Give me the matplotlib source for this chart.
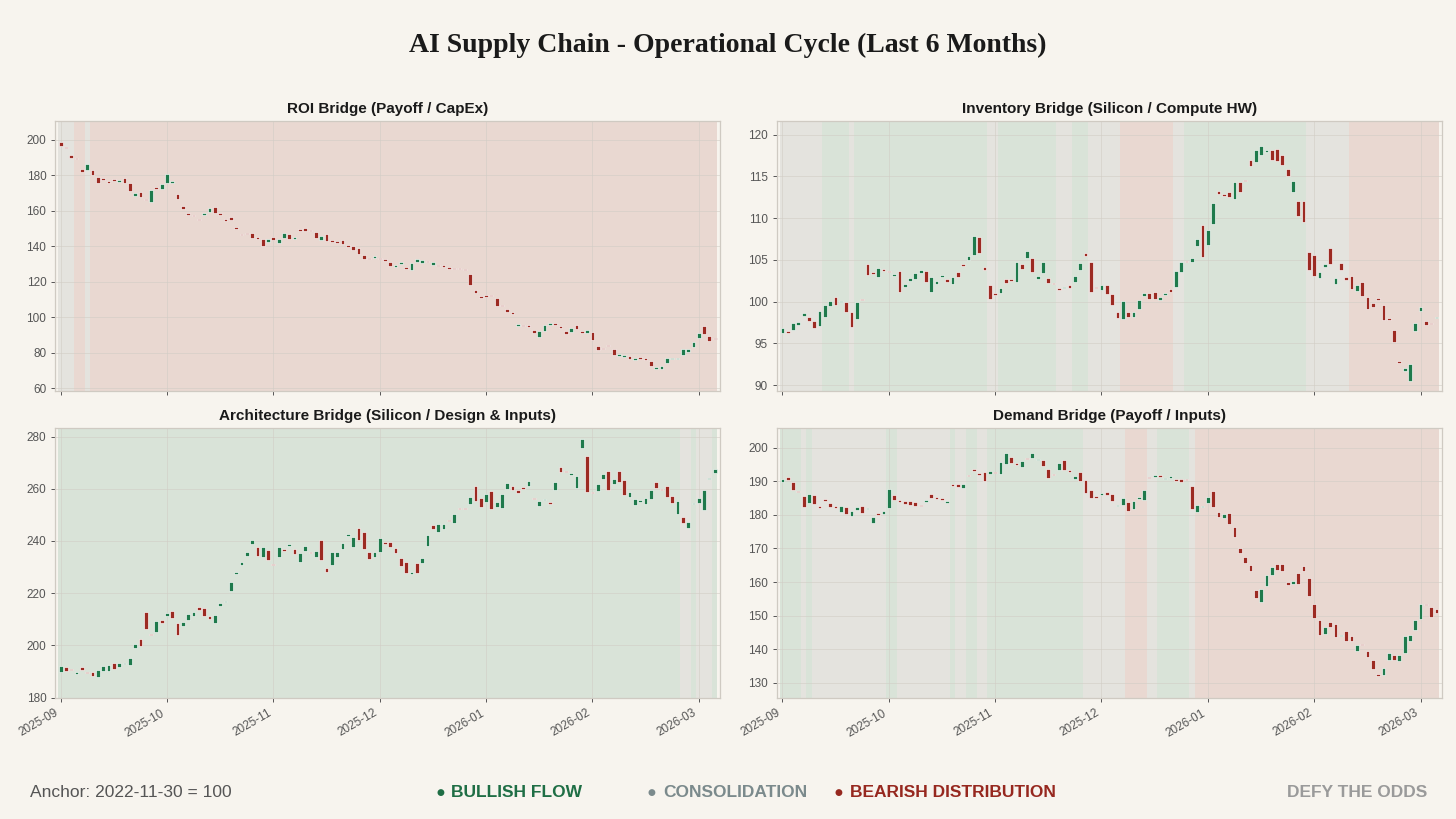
"""AI supply chain bridges - candlestick panels with regime shading."""

import matplotlib
matplotlib.use("Agg")
import matplotlib.pyplot as plt

# --- data -----------------------------------------------------------------
month_labels = ["2025-09", "2025-10", "2025-11", "2025-12",
                "2026-01", "2026-02", "2026-03"]
month_tick_pos = [0, 20, 40, 60, 80, 100, 120]

roi_open = [
    198.7, 195.6, 191.2, 189.2, 183.5, 183.1, 182.7, 178.8, 177.6, 176.9,
    177.3, 176.2, 178.1, 175.6, 168.3, 170.2, 166.8, 164.9, 173.4, 172.3,
    175.6, 175.6, 169.3, 162.5, 158.4, 157.4, 155.2, 157.3, 159.1, 162.1,
    158.2, 155.2, 156.5, 150.8, 146.7, 147.3, 147.5, 145.3, 143.9, 142.2,
    145.1, 141.9, 144.7, 146.7, 144.3, 149.3, 150.3, 149.0, 147.9, 143.6,
    146.9, 143.6, 142.2, 143.4, 140.4, 140.2, 138.9, 134.9, 133.4, 133.4,
    133.2, 132.7, 131.0, 128.4, 129.7, 128.4, 126.5, 130.8, 130.6, 131.6,
    129.3, 129.1, 128.9, 127.8, 127.3, 127.2, 126.9, 124.4, 115.2, 111.5,
    112.6, 112.4, 110.6, 106.8, 104.9, 102.7, 95.2, 95.6, 95.4, 92.8,
    88.6, 92.4, 95.8, 96.5, 94.8, 92.4, 91.8, 95.9, 92.0, 90.9,
    91.8, 83.8, 82.4, 84.5, 82.4, 78.3, 77.8, 78.3, 76.2, 77.8,
    77.2, 75.1, 71.0, 71.0, 74.0, 76.5, 76.3, 78.7, 80.6, 83.4,
    88.1, 95.0, 89.4, 88.4,
]
roi_close = [
    196.3, 195.3, 189.7, 188.8, 182.0, 186.1, 180.0, 175.8, 177.4, 175.4,
    176.8, 177.1, 175.4, 171.3, 169.8, 167.7, 165.9, 171.5, 172.3, 174.7,
    180.5, 176.4, 166.8, 161.0, 157.4, 156.9, 154.6, 158.4, 161.7, 158.4,
    157.8, 154.3, 154.6, 149.9, 146.2, 146.9, 144.5, 143.8, 140.0, 143.8,
    143.4, 144.1, 147.5, 143.8, 145.3, 148.8, 148.6, 148.4, 144.7, 145.8,
    143.0, 142.3, 142.0, 141.1, 139.6, 138.1, 135.5, 133.0, 132.7, 134.6,
    132.5, 131.8, 128.9, 128.9, 130.8, 127.1, 130.3, 132.7, 132.1, 131.0,
    131.2, 128.8, 128.4, 127.4, 127.0, 127.0, 126.5, 118.4, 113.4, 111.0,
    111.6, 111.7, 106.4, 106.1, 103.0, 101.6, 96.1, 94.8, 94.5, 91.4,
    92.4, 95.8, 96.3, 95.8, 94.2, 90.5, 93.7, 93.1, 91.3, 92.8,
    87.1, 81.7, 81.9, 83.9, 78.7, 79.4, 78.7, 76.6, 77.0, 76.6,
    76.2, 72.5, 72.1, 72.5, 77.0, 76.8, 76.9, 81.9, 82.2, 86.2,
    91.4, 90.5, 86.8, 87.5,
]
roi_regimes = [("N", 3), ("R", 2), ("N", 1), ("R", 118)]

inv_open = [
    96.3, 96.5, 96.6, 97.2, 98.3, 98.1, 97.7, 97.1, 98.2, 99.5,
    100.6, 99.9, 100.0, 98.8, 97.9, 100.3, 104.5, 103.6, 102.9, 103.9,
    103.7, 103.1, 103.7, 101.8, 102.5, 102.7, 103.4, 103.7, 101.2, 102.1,
    103.0, 102.7, 102.1, 103.6, 104.5, 105.0, 105.6, 107.7, 104.2, 102.0,
    101.0, 101.0, 102.7, 102.7, 102.3, 104.5, 105.2, 105.2, 102.7, 103.4,
    102.8, 102.2, 101.6, 101.6, 102.0, 102.4, 103.8, 105.8, 104.8, 101.8,
    101.4, 102.0, 100.9, 98.8, 97.9, 98.7, 98.2, 99.1, 100.7, 101.0,
    101.1, 100.2, 100.8, 101.5, 101.7, 103.6, 104.9, 104.8, 106.6, 109.2,
    106.8, 109.3, 113.3, 112.9, 113.1, 112.3, 114.3, 114.6, 117.0, 116.7,
    117.5, 117.9, 118.2, 118.3, 117.6, 115.9, 113.1, 112.0, 112.0, 106.0,
    105.6, 102.8, 104.2, 106.4, 102.1, 104.6, 103.0, 103.1, 101.3, 102.4,
    100.5, 99.8, 100.4, 99.6, 98.0, 96.6, 92.8, 91.7, 90.5, 96.5,
    98.9, 97.7, 97.4, 98.0,
]
inv_close = [
    96.8, 96.3, 97.4, 97.6, 98.6, 97.7, 96.9, 98.9, 99.6, 100.1,
    99.6, 100.1, 98.7, 97.0, 99.9, 100.2, 103.2, 103.3, 104.0, 103.7,
    103.5, 103.3, 101.1, 102.1, 102.8, 103.4, 103.8, 102.4, 103.0, 102.5,
    103.2, 102.4, 102.9, 102.9, 104.3, 105.5, 107.8, 105.8, 103.8, 100.3,
    100.8, 101.6, 102.2, 102.5, 104.7, 103.9, 106.1, 103.6, 103.1, 104.7,
    102.2, 102.1, 101.4, 101.8, 101.6, 103.1, 104.6, 105.5, 101.2, 101.6,
    102.0, 100.9, 99.6, 98.0, 100.1, 98.1, 98.8, 100.2, 101.0, 100.3,
    100.3, 100.5, 101.0, 101.1, 103.7, 104.7, 104.7, 105.2, 107.5, 105.4,
    108.6, 111.8, 112.9, 112.7, 112.5, 114.3, 113.1, 114.4, 116.2, 118.2,
    118.6, 118.1, 117.0, 116.8, 116.4, 115.0, 114.4, 110.3, 109.5, 103.8,
    103.1, 103.6, 104.5, 104.5, 102.8, 103.8, 102.6, 101.5, 102.0, 100.7,
    99.1, 99.3, 100.2, 97.8, 97.8, 95.2, 92.7, 92.1, 92.5, 97.4,
    99.3, 97.2, 97.3, 98.2,
]
inv_regimes = [("N", 8), ("G", 5), ("N", 1), ("G", 25), ("N", 2), ("G", 11),
               ("N", 3), ("G", 3), ("N", 6), ("R", 10), ("N", 2), ("G", 23),
               ("N", 8), ("R", 17)]

arch_open = [
    189.6, 191.6, 190.8, 188.9, 191.6, 189.5, 189.6, 187.9, 190.2, 190.0,
    193.1, 191.6, 192.9, 192.4, 199.1, 202.3, 212.9, 204.3, 205.1, 209.9,
    211.2, 213.2, 208.6, 207.6, 209.9, 211.4, 214.7, 214.2, 211.4, 208.6,
    215.2, 216.5, 220.7, 227.5, 230.8, 234.4, 238.9, 237.5, 234.0, 236.6,
    231.1, 233.8, 236.7, 238.1, 236.9, 231.9, 236.3, 235.9, 234.0, 240.2,
    229.5, 230.8, 234.0, 237.1, 242.0, 237.8, 245.0, 243.3, 235.9, 234.0,
    235.9, 239.7, 239.7, 237.3, 233.6, 231.9, 227.2, 231.4, 231.5, 238.2,
    246.1, 243.5, 244.4, 248.0, 247.0, 252.4, 252.7, 254.3, 260.9, 256.3,
    255.0, 259.2, 253.1, 252.8, 260.1, 261.0, 259.7, 260.7, 261.2, 256.3,
    253.5, 255.6, 255.0, 259.4, 268.2, 266.6, 265.1, 260.4, 275.7, 272.5,
    258.3, 259.2, 263.6, 267.0, 262.0, 266.7, 263.2, 256.9, 253.8, 255.0,
    254.3, 256.0, 262.6, 259.6, 261.0, 257.3, 250.5, 249.0, 245.1, 254.0,
    254.6, 251.8, 263.7, 266.0,
]
arch_close = [
    191.9, 190.3, 190.6, 189.8, 190.6, 189.3, 188.1, 190.6, 191.9, 192.5,
    191.1, 193.3, 193.1, 195.0, 200.6, 199.7, 206.3, 203.8, 209.4, 208.6,
    212.3, 210.4, 203.9, 208.8, 212.1, 212.8, 213.6, 211.2, 210.2, 211.6,
    216.1, 217.1, 224.4, 227.8, 232.1, 235.9, 240.5, 234.4, 237.5, 232.8,
    230.7, 237.5, 236.3, 238.9, 235.0, 235.3, 238.2, 235.3, 236.2, 232.8,
    228.2, 235.9, 235.6, 239.4, 242.2, 241.6, 240.4, 237.0, 233.0, 235.9,
    241.0, 238.9, 237.5, 235.3, 230.6, 227.8, 228.1, 227.9, 233.3, 242.3,
    244.4, 246.5, 246.6, 247.5, 250.5, 252.1, 252.3, 256.9, 255.4, 253.1,
    257.9, 252.4, 255.0, 257.9, 262.3, 259.7, 258.5, 260.1, 262.9, 256.1,
    255.2, 256.0, 254.0, 262.6, 266.4, 266.4, 266.2, 264.9, 279.1, 258.8,
    258.2, 262.0, 265.5, 259.7, 263.7, 262.7, 257.5, 258.8, 256.0, 255.2,
    256.4, 259.4, 260.4, 259.4, 256.9, 254.6, 255.2, 246.7, 247.4, 254.2,
    256.3, 259.7, 263.9, 267.5,
]
arch_regimes = [("G", 117), ("N", 2), ("G", 1), ("N", 3), ("G", 1)]

dem_open = [
    189.6, 191.1, 189.8, 186.9, 185.7, 183.6, 186.0, 182.2, 184.5, 183.6,
    182.6, 180.7, 182.2, 179.7, 181.4, 182.7, 181.7, 177.7, 180.5, 180.2,
    181.9, 186.0, 184.5, 184.0, 184.2, 183.9, 182.7, 183.9, 186.2, 185.4,
    185.0, 183.6, 188.8, 189.1, 188.1, 191.6, 193.6, 192.3, 192.6, 192.1,
    192.8, 192.1, 195.1, 197.3, 195.4, 194.1, 196.8, 197.0, 196.3, 196.2,
    193.6, 192.1, 193.4, 196.2, 193.4, 190.5, 192.8, 190.3, 187.3, 185.3,
    186.0, 186.7, 186.2, 182.6, 182.8, 183.9, 181.6, 184.6, 184.5, 191.2,
    191.3, 191.6, 190.5, 191.0, 190.5, 190.5, 190.5, 188.5, 180.7, 182.2,
    183.4, 187.1, 180.9, 179.0, 180.6, 176.5, 170.0, 167.3, 165.2, 157.6,
    154.2, 158.9, 162.2, 165.4, 165.4, 159.9, 159.5, 162.6, 164.7, 161.2,
    153.5, 148.6, 144.6, 148.1, 147.4, 143.8, 145.3, 143.8, 139.5, 141.4,
    139.5, 136.7, 132.3, 132.3, 136.7, 138.3, 136.4, 138.9, 142.6, 145.6,
    149.1, 153.3, 152.7, 152.0,
]
dem_close = [
    190.5, 190.3, 187.3, 186.7, 182.2, 186.3, 183.2, 182.1, 184.2, 182.2,
    182.0, 182.6, 180.2, 181.2, 182.4, 180.4, 182.1, 179.2, 180.0, 181.2,
    187.8, 184.4, 183.7, 183.2, 183.0, 182.6, 182.6, 184.1, 185.0, 184.6,
    184.5, 184.0, 188.6, 188.3, 189.1, 191.4, 192.9, 191.9, 190.1, 192.9,
    192.3, 195.7, 198.4, 195.5, 194.9, 196.0, 196.5, 198.3, 196.5, 194.6,
    190.9, 191.8, 195.5, 193.3, 192.6, 191.6, 190.0, 186.6, 185.0, 185.1,
    186.5, 186.0, 184.0, 182.9, 185.0, 181.2, 184.2, 185.4, 187.3, 190.9,
    191.6, 191.3, 191.0, 191.1, 190.1, 189.8, 190.2, 181.7, 183.0, 182.7,
    185.2, 182.2, 179.2, 180.2, 177.3, 173.5, 168.5, 165.7, 163.2, 155.3,
    157.8, 162.1, 164.4, 163.7, 163.2, 159.0, 160.3, 159.5, 163.4, 155.7,
    149.3, 144.1, 146.6, 146.6, 143.6, 144.1, 142.6, 142.4, 141.2, 141.2,
    137.7, 134.2, 132.2, 134.5, 138.9, 136.9, 138.4, 143.9, 144.3, 148.6,
    153.5, 153.1, 149.6, 150.9,
]
dem_regimes = [("G", 4), ("N", 1), ("G", 1), ("N", 14), ("G", 2), ("N", 10),
               ("G", 1), ("N", 2), ("G", 2), ("N", 2), ("G", 18), ("N", 8),
               ("R", 4), ("N", 2), ("G", 6), ("N", 1), ("R", 46)]

panels = [
    ("ROI Bridge (Payoff / CapEx)", roi_open, roi_close, roi_regimes,
     (58.5, 210.3), range(60, 201, 20)),
    ("Inventory Bridge (Silicon / Compute HW)", inv_open, inv_close,
     inv_regimes, (89.3, 121.6), range(90, 121, 5)),
    ("Architecture Bridge (Silicon / Design & Inputs)", arch_open, arch_close,
     arch_regimes, (179.8, 283.3), range(180, 281, 20)),
    ("Demand Bridge (Payoff / Inputs)", dem_open, dem_close, dem_regimes,
     (125.5, 205.8), range(130, 201, 10)),
]

# --- style ----------------------------------------------------------------
BG = "#f7f4ee"
UP = "#1f7a4c"
DOWN = "#9c2a22"
SHADE = {"G": "#d9e3d8", "N": "#e4e3de", "R": "#e9d8d1"}
plt.rcParams["font.family"] = ["Liberation Sans", "DejaVu Sans"]

fig = plt.figure(figsize=(14.56, 8.19), dpi=100, facecolor=BG)
boxes = [
    (0.038, 0.5226, 0.4565, 0.3294),
    (0.5337, 0.5226, 0.4566, 0.3294),
    (0.038, 0.1477, 0.4565, 0.3297),
    (0.5337, 0.1477, 0.4566, 0.3297),
]

for k, (title, opens, closes, regimes, ylim, yticks) in enumerate(panels):
    ax = fig.add_axes(boxes[k])
    ax.set_facecolor(BG)
    n = len(opens)
    x = list(range(n))

    start = 0
    for code, count in regimes:
        ax.axvspan(start - 0.5, start + count - 0.5, color=SHADE[code],
                   lw=0, zorder=0)
        start += count

    # keep doji bodies visible as a short bar
    min_h = (ylim[1] - ylim[0]) * 0.005
    bottoms = [min(o, c) for o, c in zip(opens, closes)]
    heights = [max(abs(c - o), min_h) for o, c in zip(opens, closes)]
    colors = [UP if c >= o else DOWN for o, c in zip(opens, closes)]
    ax.bar(x, heights, bottom=bottoms, width=0.7, color=colors,
           edgecolor="white", linewidth=0.45, zorder=3)

    ax.set_xlim(-1, n)
    ax.set_ylim(*ylim)
    ax.set_yticks(list(yticks))
    ax.set_xticks(month_tick_pos)
    ax.grid(True, color="#d2cdc6", lw=0.6, alpha=0.7, zorder=1)
    ax.set_axisbelow(True)
    for s in ax.spines.values():
        s.set_color("#cfcac2")
        s.set_linewidth(0.9)
    ax.tick_params(colors="#555555", labelsize=8.5, length=3, width=0.7)
    if k >= 2:
        ax.set_xticklabels(month_labels, rotation=30, ha="right")
    else:
        ax.set_xticklabels([])
    ax.set_title(title, fontsize=11, fontweight="bold", color="#1a1a1a",
                 pad=6)

fig.text(0.5, 0.945, "AI Supply Chain - Operational Cycle (Last 6 Months)",
         ha="center", va="center", fontsize=20, fontweight="bold",
         family="Liberation Serif", color="#1a1a1a")

fy = 0.032
fig.text(0.0206, fy, "Anchor: 2022-11-30 = 100", ha="left", va="center",
         fontsize=12.5, color="#555555")
legend_items = [
    (0.2995, 0.3098, "BULLISH FLOW", "#1f6e45"),
    (0.4445, 0.4555, "CONSOLIDATION", "#7b8a8c"),
    (0.573, 0.584, "BEARISH DISTRIBUTION", "#96281f"),
]
for bx, tx, label, col in legend_items:
    fig.text(bx, fy, "\u25cf", ha="left", va="center", fontsize=6.5,
             color=col, family="DejaVu Sans")
    fig.text(tx, fy, label, ha="left", va="center", fontsize=12.5,
             fontweight="bold", color=col)
fig.text(0.980, fy, "DEFY THE ODDS", ha="right", va="center",
         fontsize=12.5, fontweight="bold", color="#9a9a9a")

fig.savefig("out.png", dpi=100, facecolor=BG)
